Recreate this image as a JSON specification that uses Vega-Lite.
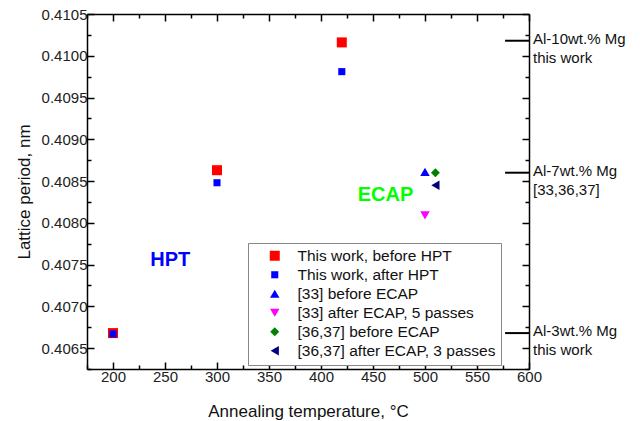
{
  "$schema": "https://vega.github.io/schema/vega-lite/v6.json",
  "width": 442,
  "height": 355,
  "autosize": "none",
  "padding": {"left": 87, "top": 14, "right": 111, "bottom": 52},
  "background": "white",
  "config": {
    "view": {"stroke": null},
    "font": "Liberation Sans",
    "axis": {
      "grid": false,
      "domainColor": "black",
      "domainWidth": 1.5,
      "tickColor": "black",
      "tickWidth": 1.5,
      "labelFont": "Liberation Sans",
      "labelFontSize": 15,
      "labelColor": "#222",
      "titleFont": "Liberation Sans",
      "titleFontSize": 17,
      "titleFontWeight": "normal",
      "titleColor": "#111",
      "labelFlush": false,
      "labelOverlap": false
    }
  },
  "datasets": {
    "pts": [
      {"T": 200, "a": 0.40668, "s": "This work, before HPT"},
      {"T": 300, "a": 0.40863, "s": "This work, before HPT"},
      {"T": 420, "a": 0.41016, "s": "This work, before HPT"},
      {"T": 200, "a": 0.40667, "s": "This work, after HPT"},
      {"T": 300, "a": 0.40848, "s": "This work, after HPT"},
      {"T": 420, "a": 0.40981, "s": "This work, after HPT"},
      {"T": 500, "a": 0.40861, "s": "[33] before ECAP"},
      {"T": 500, "a": 0.40809, "s": "[33] after ECAP, 5 passes"},
      {"T": 510, "a": 0.40860, "s": "[36,37] before ECAP"},
      {"T": 510, "a": 0.40845, "s": "[36,37] after ECAP, 3 passes"}
    ],
    "ann": [
      {"a": 0.41018, "l": ["Al-10wt.% Mg", "this work"]},
      {"a": 0.40860, "l": ["Al-7wt.% Mg", "[33,36,37]"]},
      {"a": 0.40668, "l": ["Al-3wt.% Mg", "this work"]}
    ]
  },
  "resolve": {"axis": {"x": "independent", "y": "independent"}},
  "layer": [
    {
      "data": {"name": "pts"},
      "mark": {"type": "point", "filled": true, "opacity": 1, "strokeWidth": 0},
      "encoding": {
        "x": {
          "field": "T", "type": "quantitative",
          "scale": {"domain": [175, 600], "nice": false, "zero": false},
          "axis": {
            "orient": "bottom",
            "title": "Annealing temperature, °C",
            "values": [175, 200, 225, 250, 275, 300, 325, 350, 375, 400, 425, 450, 475, 500, 525, 550, 575, 600],
            "labelExpr": "datum.value % 50 === 0 ? datum.label : ''",
            "tickSize": {"condition": {"test": "datum.value % 50 === 0", "value": -7}, "value": -4},
            "labelPadding": 7,
            "titlePadding": 16
          }
        },
        "y": {
          "field": "a", "type": "quantitative",
          "scale": {"domain": [0.40625, 0.4105], "nice": false, "zero": false},
          "axis": {
            "orient": "left",
            "title": "Lattice period, nm",
            "values": [0.40625, 0.4065, 0.40675, 0.407, 0.40725, 0.4075, 0.40775, 0.408, 0.40825, 0.4085, 0.40875, 0.409, 0.40925, 0.4095, 0.40975, 0.41, 0.41025, 0.4105],
            "labelExpr": "round(datum.value * 100000) % 50 === 0 ? format(datum.value, '.4f') : ''",
            "tickSize": {"condition": {"test": "round(datum.value * 100000) % 50 === 0", "value": -7}, "value": -4},
            "labelPadding": 7,
            "titlePadding": 8
          }
        },
        "color": {
          "field": "s", "type": "nominal",
          "scale": {
            "domain": ["This work, before HPT", "This work, after HPT", "[33] before ECAP", "[33] after ECAP, 5 passes", "[36,37] before ECAP", "[36,37] after ECAP, 3 passes"],
            "range": ["#ff0000", "#0000ff", "#0000ff", "#ff00ff", "#008000", "#000080"]
          },
          "legend": {
            "title": null,
            "orient": "none",
            "legendX": 161,
            "legendY": 229,
            "padding": 5,
            "symbolOffset": 14,
            "labelOffset": 15,
            "labelFont": "Liberation Sans",
            "labelFontSize": 15.5,
            "labelColor": "#111",
            "rowPadding": 2,
            "strokeColor": "#888",
            "fillColor": "white",
            "symbolStrokeWidth": 0,
            "labelLimit": 300
          }
        },
        "shape": {
          "field": "s", "type": "nominal",
          "scale": {
            "domain": ["This work, before HPT", "This work, after HPT", "[33] before ECAP", "[33] after ECAP, 5 passes", "[36,37] before ECAP", "[36,37] after ECAP, 3 passes"],
            "range": ["square", "square", "triangle-up", "triangle-down", "diamond", "triangle-left"]
          }
        },
        "size": {
          "field": "s", "type": "nominal",
          "scale": {
            "type": "ordinal",
            "domain": ["This work, before HPT", "This work, after HPT", "[33] before ECAP", "[33] after ECAP, 5 passes", "[36,37] before ECAP", "[36,37] after ECAP, 3 passes"],
            "range": [100, 50, 90, 90, 80, 90]
          }
        }
      }
    },
    {
      "data": {"values": [{}]},
      "mark": {"type": "point", "opacity": 0},
      "encoding": {
        "x": {
          "datum": 300, "type": "quantitative",
          "axis": {
            "orient": "top", "title": null, "labels": false, "domainWidth": 1.5,
            "values": [175, 200, 225, 250, 275, 300, 325, 350, 375, 400, 425, 450, 475, 500, 525, 550, 575, 600],
            "tickSize": {"condition": {"test": "datum.value % 50 === 0", "value": -7}, "value": -4}
          }
        },
        "y": {
          "datum": 0.408, "type": "quantitative",
          "axis": {
            "orient": "right", "title": null, "labels": false,
            "values": [0.40625, 0.4065, 0.40675, 0.407, 0.40725, 0.4075, 0.40775, 0.408, 0.40825, 0.4085, 0.40875, 0.409, 0.40925, 0.4095, 0.40975, 0.41, 0.41025, 0.4105],
            "tickSize": {"condition": {"test": "round(datum.value * 100000) % 50 === 0", "value": -7}, "value": -4}
          }
        }
      }
    },
    {
      "data": {"name": "ann"},
      "mark": {"type": "rule", "color": "black", "strokeWidth": 2},
      "encoding": {
        "x": {"datum": 577, "type": "quantitative", "axis": null},
        "x2": {"datum": 600},
        "y": {"field": "a", "type": "quantitative", "axis": null}
      }
    },
    {
      "data": {"name": "ann"},
      "mark": {"type": "text", "align": "left", "baseline": "top", "dx": 4, "dy": -9, "fontSize": 15, "lineHeight": 19, "color": "#111", "font": "Liberation Sans"},
      "encoding": {
        "x": {"datum": 600, "type": "quantitative", "axis": null},
        "y": {"field": "a", "type": "quantitative", "axis": null},
        "text": {"field": "l"}
      }
    },
    {
      "data": {"values": [{"t": "HPT"}]},
      "mark": {"type": "text", "fontSize": 20, "fontWeight": "bold", "color": "#0000ff", "font": "Liberation Sans"},
      "encoding": {
        "x": {"datum": 255, "type": "quantitative", "axis": null},
        "y": {"datum": 0.40755, "type": "quantitative", "axis": null},
        "text": {"field": "t"}
      }
    },
    {
      "data": {"values": [{"t": "ECAP"}]},
      "mark": {"type": "text", "fontSize": 20, "fontWeight": "bold", "color": "#00ff00", "font": "Liberation Sans"},
      "encoding": {
        "x": {"datum": 462, "type": "quantitative", "axis": null},
        "y": {"datum": 0.40833, "type": "quantitative", "axis": null},
        "text": {"field": "t"}
      }
    }
  ]
}
